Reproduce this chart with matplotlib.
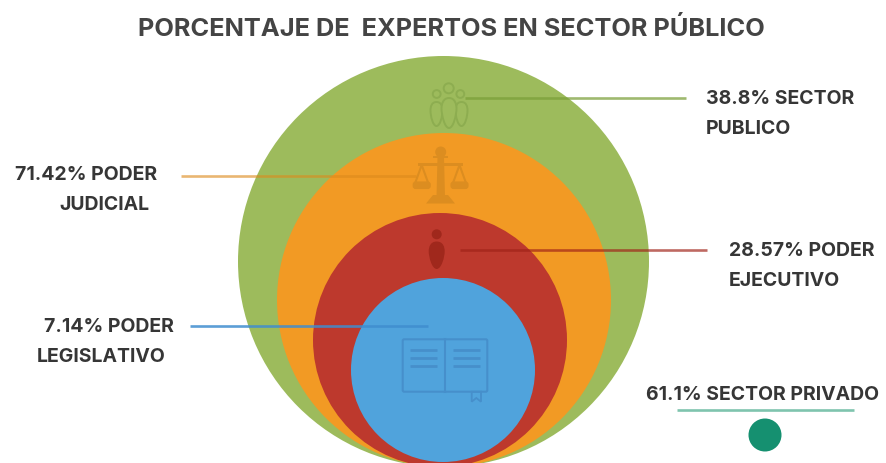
import matplotlib
matplotlib.use("Agg")
import matplotlib.pyplot as plt
from matplotlib.patches import Circle, Polygon, PathPatch, Rectangle, FancyBboxPatch
from matplotlib.path import Path

plt.rcParams['font.family'] = ['Inter', 'DejaVu Sans']

title = "PORCENTAJE DE  EXPERTOS EN SECTOR PÚBLICO"
percentages = ["38.8%", "71.42%", "28.57%", "7.14%"]
names_line1 = ["SECTOR", "PODER", "PODER", "PODER"]
names_line2 = ["PUBLICO", "JUDICIAL", "EJECUTIVO", "LEGISLATIVO"]
private_pct = "61.1%"
private_name = "SECTOR PRIVADO"

# Layout (pixel coordinates of the reference)
circle_colors = ["#9dbb5c", "#f29a24", "#bd392d", "#50a3dc"]
circle_geom = [(443.5, 261.5, 205.5), (444, 300, 167), (440, 340, 127), (443, 370, 92)]
line_colors = ["#7a9f38", "#dc8a1c", "#a02218", "#3f8dcf"]
line_geom = [(465, 686, 98), (181, 416, 175.5), (460, 707, 250), (190, 428, 326)]
line_alpha = [0.72, 0.62, 0.68, 0.85]
label_pos = [(706, 99.5, 706, 129.5), (15, 175.5, 59, 205.5), (729, 250.5, 729, 280.5), (44, 326.5, 37, 356.5)]
TEXT = "#363636"


def body(cx, top, bottom, half_w, **kw):
    """Rounded, downward-tapering body outline."""
    mid = top + (bottom - top) * 0.35
    verts = [(cx, top),
             (cx - half_w * 0.8, top), (cx - half_w, mid - 4), (cx - half_w, mid),
             (cx - half_w, mid + 6), (cx - half_w * 0.6, bottom), (cx, bottom),
             (cx + half_w * 0.6, bottom), (cx + half_w, mid + 6), (cx + half_w, mid),
             (cx + half_w, mid - 4), (cx + half_w * 0.8, top), (cx, top)]
    codes = [Path.MOVETO] + [Path.CURVE4] * 12
    return PathPatch(Path(verts, codes), **kw)


fig = plt.figure(figsize=(8.86, 4.63), dpi=100)
ax = fig.add_axes([0, 0, 1, 1])
ax.set_xlim(0, 886)
ax.set_ylim(463, 0)
ax.axis("off")

for (cx, cy, r), c in zip(circle_geom, circle_colors):
    ax.add_patch(Circle((cx, cy), r, fc=c, ec="none", zorder=1))

for (x0, x1, y), c, a in zip(line_geom, line_colors, line_alpha):
    ax.plot([x0, x1], [y, y], color=c, lw=1.9, alpha=a, solid_capstyle="butt", zorder=3)

# People icon
ic = "#8dad50"
for (x, y, r) in [(448.7, 88.3, 5), (436.7, 94, 3.9), (460.3, 94, 3.9)]:
    ax.add_patch(Circle((x, y), r, fc="none", ec=ic, lw=1.4, zorder=2))
for (x, top, bot, hw) in [(436.5, 102, 126, 6), (461.5, 102, 126, 6), (449, 98, 128, 7.5)]:
    ax.add_patch(body(x, top, bot, hw, fc="#9dbb5c", ec=ic, lw=1.4, zorder=2))

# Scales icon
sc = "#dc8d20"
ax.add_patch(Circle((440.7, 152), 5.5, fc=sc, ec="none", zorder=2))
ax.add_patch(Rectangle((433, 156), 15.5, 2.2, fc=sc, ec="none", zorder=2))
ax.add_patch(Polygon([(437.5, 157), (444, 157), (445, 197), (436.5, 197)], fc=sc, ec="none", zorder=2))
ax.add_patch(Polygon([(433, 195), (448, 195), (455, 203.5), (426, 203.5)], fc=sc, ec="none", zorder=2))
ax.add_patch(Rectangle((418, 163), 45, 2.6, fc=sc, ec="none", zorder=2))
for cx in (421.7, 459.5):
    ax.add_patch(Polygon([(cx, 165), (cx - 6.5, 183), (cx + 6.5, 183)], fc="none", ec=sc, lw=1.5, zorder=2))
    ax.add_patch(FancyBboxPatch((cx - 8.5, 182), 17, 6.5, boxstyle="round,pad=0,rounding_size=2.5",
                                fc=sc, ec=sc, lw=0.8, zorder=2))

# Person icon
pc = "#a0281c"
ax.add_patch(Circle((436.7, 234.3), 5, fc=pc, ec="none", zorder=2))
ax.add_patch(body(436.7, 241.5, 269, 8, fc=pc, ec="none", zorder=2))

# Book icon
bk = "#468fcb"
ax.add_patch(FancyBboxPatch((402.7, 339.3), 84.6, 52.4, boxstyle="round,pad=0,rounding_size=1.5",
                            fc="none", ec=bk, lw=1.5, zorder=2))
ax.plot([445, 445], [339.3, 391.7], color=bk, lw=1.5, zorder=2)
for y in (350.3, 358, 366):
    ax.plot([410, 437.3], [y, y], color=bk, lw=2.0, zorder=2, solid_capstyle="butt")
    ax.plot([452.7, 480], [y, y], color=bk, lw=2.0, zorder=2, solid_capstyle="butt")
ax.add_patch(Polygon([(471.7, 391.7), (471.7, 401.7), (476.3, 398), (481, 401.7), (481, 391.7)],
                     fc="none", ec=bk, lw=1.3, zorder=2))

# Text
ax.text(451.5, 28.5, title, ha="center", va="center", fontsize=18.3, fontweight="bold", color="#444444")
FS = 14
for pct, n1, n2, (x1, y1, x2, y2) in zip(percentages, names_line1, names_line2, label_pos):
    ax.text(x1, y1, f"{pct} {n1}", ha="left", va="center", fontsize=FS, fontweight="bold", color=TEXT)
    ax.text(x2, y2, n2, ha="left", va="center", fontsize=FS, fontweight="bold", color=TEXT)

ax.text(646, 394.5, f"{private_pct} {private_name}", ha="left", va="center", fontsize=FS, fontweight="bold", color=TEXT)
ax.plot([677, 854], [410, 410], color="#7fc4ae", lw=1.9, solid_capstyle="butt")
ax.add_patch(Circle((765, 435), 16.5, fc="#159070", ec="none"))

fig.savefig("out.png", dpi=100)
